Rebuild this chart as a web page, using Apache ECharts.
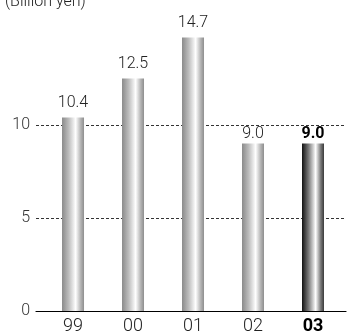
<!DOCTYPE html>
<html>
<head>
<meta charset="utf-8">
<script src="https://cdn.jsdelivr.net/npm/echarts@6/dist/echarts.min.js"></script>
<style>
  html, body { margin: 0; padding: 0; background: #fff; }
  #chart { width: 349px; height: 335px; }
</style>
</head>
<body>
<div id="chart"></div>
<script>
// Fiscal years and amounts (billion yen)
const years = ['99', '00', '01', '02', '03'];
const amounts = [10.4, 12.5, 14.7, 9.0, 9.0];
const yStep = 5;
const yMax = 15;
const highlightYear = '03';

const FONT = '"Liberation Sans Narrow", Roboto, sans-serif';

const greyBar = {
  type: 'linear', x: 0, y: 0, x2: 1, y2: 0,
  colorStops: [
    { offset: 0, color: '#8a8a8a' },
    { offset: 0.3, color: '#bcbcbc' },
    { offset: 0.62, color: '#ffffff' },
    { offset: 0.85, color: '#b4b4b4' },
    { offset: 1, color: '#8e8e8e' }
  ]
};
const darkBar = {
  type: 'linear', x: 0, y: 0, x2: 1, y2: 0,
  colorStops: [
    { offset: 0, color: '#111111' },
    { offset: 0.3, color: '#7a7a7a' },
    { offset: 0.62, color: '#ffffff' },
    { offset: 0.85, color: '#7a7a7a' },
    { offset: 1, color: '#3a3a3a' }
  ]
};

const barData = amounts.map((v, i) => {
  const hi = years[i] === highlightYear;
  return {
    value: [i, v],
    itemStyle: { color: hi ? darkBar : greyBar },
    label: {
      fontWeight: hi ? 'bold' : 300,
      color: hi ? '#000' : '#222',
      // tuck labels in under the 10 gridline when the bar sits just below it
      distance: v < yStep * 2 && v > yStep * 2 - 1.5 ? 2 : 7
    }
  };
});

const chart = echarts.init(document.getElementById('chart'), null, { renderer: 'canvas' });
chart.setOption({
  animation: false,
  title: {
    text: '(Billion yen)',
    left: 0,
    top: -11,
    textStyle: { fontFamily: FONT, fontSize: 16, fontWeight: 300, color: '#222' }
  },
  grid: { left: 36, right: 3, top: 32, bottom: 24, containLabel: false },
  xAxis: {
    type: 'value',
    min: -0.617,
    max: 4.55,
    axisLine: { show: true, onZero: false, lineStyle: { color: '#000', width: 1.2 } },
    axisTick: { show: false },
    splitLine: { show: false },
    axisLabel: {
      customValues: years.map((_, i) => i),
      margin: 6,
      fontFamily: FONT,
      fontSize: 18,
      fontWeight: 300,
      color: '#222',
      formatter: (v) => {
        const y = years[Math.round(v)];
        return y === highlightYear ? '{b|' + y + '}' : y;
      },
      rich: { b: { fontFamily: FONT, fontSize: 18, fontWeight: 'bold', color: '#000' } }
    }
  },
  yAxis: {
    type: 'value',
    min: 0,
    max: yMax,
    interval: yStep,
    axisLine: { show: false },
    axisTick: { show: false },
    axisLabel: {
      showMaxLabel: false,
      margin: 6,
      fontFamily: FONT,
      fontSize: 16,
      fontWeight: 300,
      color: '#333'
    },
    splitLine: {
      show: true,
      showMinLine: false,
      showMaxLine: false,
      lineStyle: { color: '#333', width: 1, type: [3, 2] }
    }
  },
  series: [{
    type: 'bar',
    barWidth: 22,
    data: barData,
    z: 3,
    label: {
      show: true,
      position: 'top',
      fontFamily: FONT,
      fontSize: 16,
      formatter: (p) => p.value[1].toFixed(1)
    }
  }]
});
</script>
</body>
</html>
